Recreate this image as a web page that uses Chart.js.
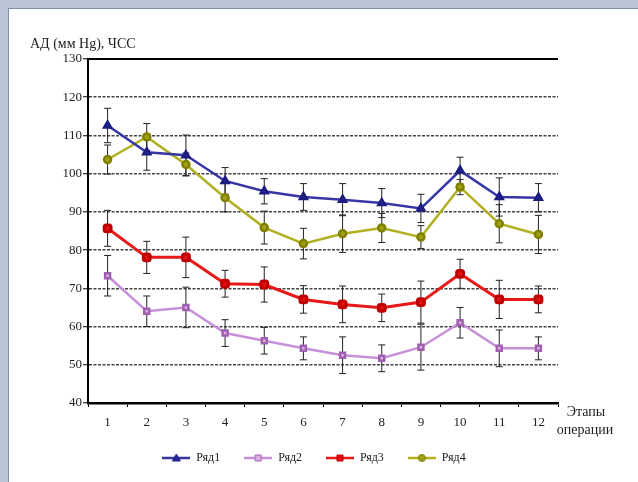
<!DOCTYPE html>
<html lang="ru">
<head>
  <meta charset="UTF-8">
  <title>АД и ЧСС по этапам операции</title>
  <script src="https://cdn.jsdelivr.net/npm/chart.js"></script>
  <style>
    html, body { margin: 0; padding: 0; }
    body { width: 638px; height: 482px; background: #b9c4d4; position: relative; overflow: hidden; }
    #panel { position: absolute; left: 8px; top: 8px; right: 0; bottom: 0; background: #fff;
             border-left: 1px solid #7f8ea6; border-top: 1px solid #7f8ea6; }
    #chart { position: absolute; left: 0; top: 0; }
  </style>
</head>
<body>
  <div id="panel"></div>
  <canvas id="chart" width="638" height="482"></canvas>

  <script>
    // этапы операции
    const stages = ["1", "2", "3", "4", "5", "6", "7", "8", "9", "10", "11", "12"];

    // значения рядов
    const row1 = [112.6, 105.6, 104.8, 98.1, 95.4, 93.9, 93.2, 92.3, 90.9, 100.8, 93.9, 93.7];
    const row2 = [73.3, 64.0, 65.0, 58.3, 56.3, 54.3, 52.5, 51.7, 54.6, 61.0, 54.3, 54.3];
    const row3 = [85.7, 78.1, 78.1, 71.2, 71.0, 67.1, 65.8, 64.9, 66.4, 73.8, 67.1, 67.1];
    const row4 = [103.7, 109.6, 102.4, 93.7, 85.9, 81.7, 84.3, 85.8, 83.4, 96.5, 86.9, 84.1];

    // погрешности (±)
    const err1 = [4.5, 4.7, 5.3, 3.5, 3.3, 3.5, 4.2, 3.8, 3.7, 3.5, 5.0, 3.7];
    const err2 = [5.3, 4.0, 5.3, 3.5, 3.5, 3.0, 4.8, 3.5, 6.0, 4.0, 4.8, 3.0];
    const err3 = [4.7, 4.2, 5.3, 3.5, 4.6, 3.6, 4.8, 3.6, 5.5, 3.8, 5.0, 3.5];
    const err4 = [3.8, 3.5, 3.0, 3.7, 4.3, 4.0, 4.9, 3.8, 3.0, 2.0, 5.0, 5.0];

    const yTicks = { min: 40, max: 130, step: 10 };
    const yTitle = "АД (мм Hg), ЧСС";
    const xTitle = ["Этапы", "операции"];

    const errors = [err1, err2, err3, err4];

    Chart.defaults.font.family = '"Liberation Serif", "DejaVu Serif", serif';
    Chart.defaults.font.size = 12;
    Chart.defaults.color = "#222";

    // значок легенды: линия с маркером
    function legendIcon(color, fill, stroke, style) {
      const c = document.createElement("canvas");
      c.width = 28; c.height = 12;
      const g = c.getContext("2d");
      g.strokeStyle = color; g.lineWidth = 2.5;
      g.beginPath(); g.moveTo(0, 6); g.lineTo(28, 6); g.stroke();
      g.fillStyle = fill; g.strokeStyle = stroke; g.lineWidth = 1;
      g.beginPath();
      if (style === "triangle") { g.moveTo(14, 2); g.lineTo(18, 9); g.lineTo(10, 9); g.closePath(); }
      else if (style === "circle") { g.arc(14, 6, 3.5, 0, Math.PI * 2); }
      else { g.rect(11, 3, 6, 6); }
      g.fill(); g.stroke();
      return c;
    }

    const icons = [
      legendIcon("#3636a4", "#26269a", "#1c1c80", "triangle"),
      legendIcon("#c890d8", "#dcb0e6", "#a060b0", "rect"),
      legendIcon("#e81818", "#e01010", "#c00000", "rect"),
      legendIcon("#b0b020", "#a0a010", "#808000", "circle"),
    ];

    const extras = {
      id: "extras",
      // планки погрешностей под линиями
      beforeDatasetsDraw(chart) {
        const ctx = chart.ctx;
        const y = chart.scales.y;
        ctx.save();
        ctx.strokeStyle = "#222";
        ctx.lineWidth = 1;
        chart.data.datasets.forEach((ds, i) => {
          const meta = chart.getDatasetMeta(i);
          meta.data.forEach((pt, j) => {
            const v = ds.data[j], e = errors[i][j];
            const yt = y.getPixelForValue(v + e), yb = y.getPixelForValue(v - e);
            ctx.beginPath();
            ctx.moveTo(pt.x, yt); ctx.lineTo(pt.x, yb);
            ctx.moveTo(pt.x - 3.5, yt); ctx.lineTo(pt.x + 3.5, yt);
            ctx.moveTo(pt.x - 3.5, yb); ctx.lineTo(pt.x + 3.5, yb);
            ctx.stroke();
          });
        });
        ctx.restore();
      },
      afterDraw(chart) {
        const ctx = chart.ctx;
        const a = chart.chartArea;
        ctx.save();
        // верхняя рамка
        ctx.strokeStyle = "#000";
        ctx.lineWidth = 2;
        ctx.beginPath(); ctx.moveTo(a.left - 1, a.top); ctx.lineTo(a.right, a.top); ctx.stroke();
        // подписи осей
        ctx.fillStyle = "#222";
        ctx.font = '14px "Liberation Serif", serif';
        ctx.textBaseline = "middle";
        ctx.textAlign = "left";
        ctx.fillText(yTitle, 30, 44);
        ctx.textAlign = "center";
        ctx.fillText(xTitle[0], 586, 412);
        ctx.fillText(xTitle[1], 585, 430);
        ctx.restore();
      }
    };

    new Chart(document.getElementById("chart"), {
      type: "line",
      data: {
        labels: stages,
        datasets: [
          { label: "Ряд1", data: row1, borderColor: "#3636a4", borderWidth: 2.5,
            pointStyle: "triangle", pointRadius: 4, pointBackgroundColor: "#26269a", pointBorderColor: "#1c1c80" },
          { label: "Ряд2", data: row2, borderColor: "#c890d8", borderWidth: 2.5,
            pointStyle: "rect", pointRadius: 3.5, pointBackgroundColor: "#dcb0e6", pointBorderColor: "#a060b0" },
          { label: "Ряд3", data: row3, borderColor: "#e81818", borderWidth: 3,
            pointStyle: "rectRounded", pointRadius: 4, pointBackgroundColor: "#e01010", pointBorderColor: "#c00000" },
          { label: "Ряд4", data: row4, borderColor: "#b0b020", borderWidth: 2.5,
            pointStyle: "circle", pointRadius: 3.5, pointBackgroundColor: "#a0a010", pointBorderColor: "#808000" },
        ],
      },
      options: {
        responsive: false,
        animation: false,
        devicePixelRatio: 1,
        layout: { padding: { left: 0, top: 59, right: 10, bottom: 8 } },
        elements: { line: { tension: 0 } },
        plugins: {
          tooltip: { enabled: false },
          legend: {
            position: "bottom",
            labels: {
              usePointStyle: true,
              pointStyleWidth: 28,
              padding: 24,
              color: "#222",
              font: { size: 12 },
              generateLabels(chart) {
                const items = Chart.defaults.plugins.legend.labels.generateLabels(chart);
                items.forEach((it, i) => { it.pointStyle = icons[i]; });
                return items;
              },
            },
          },
        },
        scales: {
          x: {
            offset: true,
            afterFit(scale) { scale.height = 25; },
            grid: { offset: true, drawOnChartArea: false, drawTicks: true, tickLength: 4, tickColor: "#000", tickWidth: 1 },
            border: { display: true, color: "#000", width: 2.5 },
            ticks: { padding: 8, color: "#222", maxRotation: 0, font: { size: 13 } },
          },
          y: {
            min: yTicks.min,
            max: yTicks.max,
            afterFit(scale) { scale.width = 88; },
            grid: { color: "#444", lineWidth: 1.5, tickLength: 5, tickColor: "#000", tickWidth: 1, tickBorderDash: [] },
            border: { display: true, color: "#000", width: 2, dash: [3, 1.5] },
            ticks: { stepSize: yTicks.step, padding: 1, color: "#222", font: { size: 13 } },
          },
          // пустое место справа под подпись "Этапы операции"
          yRight: {
            position: "right",
            afterFit(scale) { scale.width = 70; },
            grid: { display: false },
            border: { display: false },
            ticks: { display: false },
          },
        },
      },
      plugins: [extras],
    });
  </script>
</body>
</html>
